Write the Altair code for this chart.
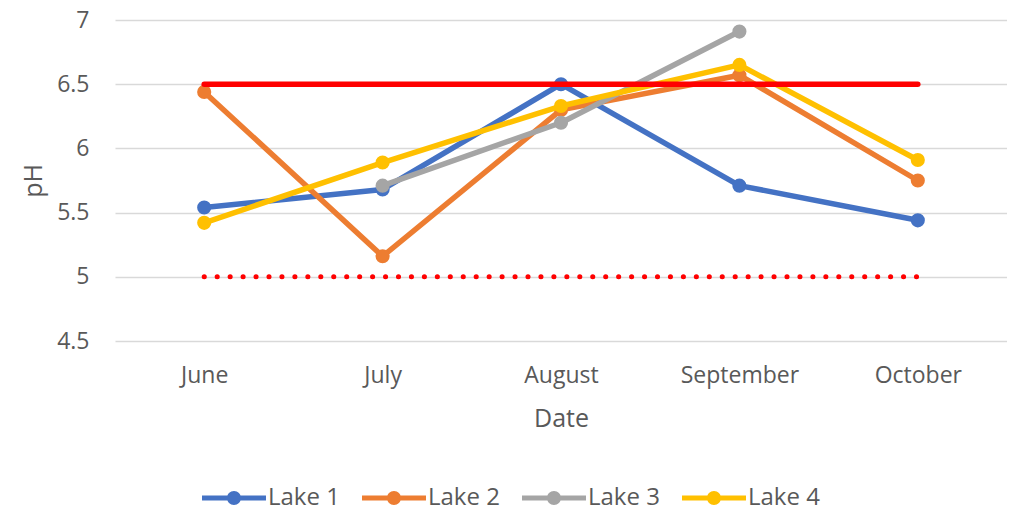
import altair as alt
import pandas as pd

months = ["June", "July", "August", "September", "October"]
lake_names = ["Lake 1", "Lake 2", "Lake 3", "Lake 4"]
lake1 = [5.54, 5.68, 6.50, 5.71, 5.44]
lake2 = [6.44, 5.16, 6.30, 6.57, 5.75]
lake3 = [None, 5.71, 6.20, 6.91, None]
lake4 = [5.42, 5.89, 6.33, 6.65, 5.91]
upper_limit = [6.5, 6.5, 6.5, 6.5, 6.5]
lower_limit = [5.0, 5.0, 5.0, 5.0, 5.0]
y_ticks = [4.5, 5, 5.5, 6, 6.5, 7]
lake_colors = ["#4472C4", "#ED7D31", "#A5A5A5", "#FFC000"]

FONT = "Open Sans"
TXT = "#595959"

rows = []
for name, vals in zip(lake_names, [lake1, lake2, lake3, lake4]):
    for m, v in zip(months, vals):
        if v is not None:
            rows.append({"month": m, "lake": name, "pH": v})
df = pd.DataFrame(rows)
limits = pd.DataFrame({"month": months, "upper": upper_limit, "lower": lower_limit})

legend_path = "M-4.57,-0.36L4.57,-0.36L4.57,0.36L-4.57,0.36Z M-1,0A1,1 0 1,1 1,0A1,1 0 1,1 -1,0Z"

x_enc = alt.X(
    "month:N", sort=months,
    scale=alt.Scale(domain=months, padding=0.5),
    axis=alt.Axis(title="Date", labelAngle=0, domain=False, ticks=False, grid=False,
                  labelPadding=23, labelFontSize=23, labelColor=TXT, labelFont=FONT,
                  titleFontSize=25, titleColor=TXT, titleFont=FONT, titleFontWeight="normal",
                  titlePadding=19),
)
y_scale = alt.Scale(domain=[4.5, 7])
y_axis = alt.Axis(title="pH", values=y_ticks, format="~g", domain=False, ticks=False, grid=True,
                  gridColor="#D9D9D9", gridWidth=1.5, labelPadding=26, labelFontSize=23,
                  labelColor=TXT, labelFont=FONT, titleFontSize=25, titleColor=TXT,
                  titleFont=FONT, titleFontWeight="normal", titlePadding=10)

color_scale = alt.Scale(domain=lake_names, range=lake_colors)
legend = alt.Legend(orient="none", legendX=107, legendY=466, direction="horizontal", title=None,
                    symbolType=legend_path, symbolSize=196, symbolStrokeWidth=0,
                    labelFontSize=24, labelColor=TXT, labelFont=FONT, labelOffset=22,
                    columnPadding=22, padding=0)

base = alt.Chart(df)
layers = []
for name, col in zip(lake_names, lake_colors):
    sub = base.transform_filter(alt.datum.lake == name)
    layers.append(sub.mark_line(strokeWidth=5.5, color=col, strokeCap="round", strokeJoin="round").encode(
        x=x_enc, y=alt.Y("pH:Q", scale=y_scale, axis=y_axis)))
    layers.append(sub.mark_point(filled=True, size=200, opacity=1).encode(
        x=x_enc, y=alt.Y("pH:Q", scale=y_scale, axis=y_axis),
        color=alt.Color("lake:N", scale=color_scale, legend=legend)))

lim = alt.Chart(limits)
upper = lim.mark_line(color="#FF0000", strokeWidth=5.5, strokeCap="round").encode(
    x=x_enc, y=alt.Y("upper:Q", scale=y_scale, axis=y_axis))
lower = lim.mark_line(color="#FF0000", strokeWidth=5, strokeDash=[0.1, 12.85], strokeCap="round").encode(
    x=x_enc, y=alt.Y("lower:Q", scale=y_scale, axis=y_axis))

chart = alt.layer(*layers, upper, lower).properties(
    width=892, height=321,
    autosize=alt.AutoSizeParams(type="none"),
    padding={"left": 107, "top": 12, "right": 0, "bottom": 170},
).configure_view(stroke=None)

chart.save("out.html", embed_options={"renderer": "svg", "actions": False})
